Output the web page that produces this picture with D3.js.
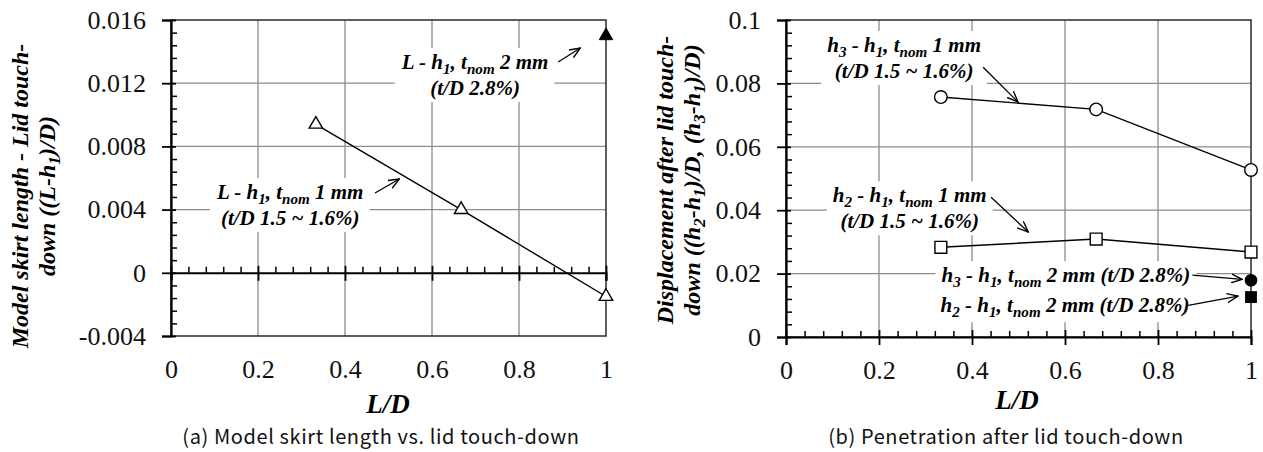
<!DOCTYPE html>
<html>
<head>
<meta charset="utf-8">
<script src="https://cdn.jsdelivr.net/npm/d3@7"></script>
<style>
  body { margin: 0; background: #fff; }
  svg { display: block; }
</style>
</head>
<body>
<svg id="fig" width="1263" height="452"></svg>
<script>
// ---- data ----
const xTicks = [0, 0.2, 0.4, 0.6, 0.8, 1];
const yTicksA = [-0.004, 0, 0.004, 0.008, 0.012, 0.016];
const yTicksB = [0, 0.02, 0.04, 0.06, 0.08, 0.1];

const LD = [0.333, 0.667, 1];
const skirt1mm = [0.0094, 0.0040, -0.0015];
const LD2mm = [1];
const skirt2mm = [0.0150];

const h3h1_1mm = [0.0757, 0.0718, 0.0527];
const h2h1_1mm = [0.0283, 0.0309, 0.0268];
const h3h1_2mm = [0.0179];
const h2h1_2mm = [0.0126];

const serif = "Liberation Serif";
const svg = d3.select("#fig");

// arrowhead (open V)
svg.append("defs").append("marker")
    .attr("id", "arr")
    .attr("markerUnits", "userSpaceOnUse")
    .attr("viewBox", "0 0 12 10")
    .attr("refX", 11).attr("refY", 5)
    .attr("markerWidth", 12).attr("markerHeight", 10)
    .attr("orient", "auto")
    .append("path")
    .attr("d", "M0,0.5 L11,5 L0,9.5")
    .attr("fill", "none")
    .attr("stroke", "#000")
    .attr("stroke-width", 1.4);

// write segments with subscripts into a text node
function rich(sel, segs) {
    let down = false;
    segs.forEach(([s, sub]) => {
        const ts = sel.append("tspan").text(s);
        if (sub) {
            ts.style("font-size", "0.72em");
            if (!down) { ts.attr("dy", 5); down = true; }
        } else if (down) {
            ts.attr("dy", -5); down = false;
        }
    });
}

function Config(left, right, top, bottom, yDomain, yTicks, xAxisAt) {
    this.x = d3.scaleLinear().domain([0, 1]).range([left, right]);
    this.y = d3.scaleLinear().domain(yDomain).range([bottom, top]);
    this.yTicks = yTicks;
    this.xAxisAt = xAxisAt;
    this.left = left; this.right = right; this.top = top; this.bottom = bottom;
}

function minorOf(ticks, n) {
    const out = [];
    for (let i = 0; i < ticks.length - 1; i++) {
        const step = (ticks[i + 1] - ticks[i]) / n;
        for (let k = 1; k < n; k++) out.push(ticks[i] + k * step);
    }
    return out;
}

function drawFrame(g, cfg) {
    const {x, y} = cfg;
    // grid
    g.append("g").selectAll("line")
        .data(xTicks.slice(1, -1))
        .join("line")
        .attr("x1", d => x(d)).attr("x2", d => x(d))
        .attr("y1", cfg.top).attr("y2", cfg.bottom)
        .attr("stroke", "#8c8c8c").attr("stroke-width", 1.3);
    g.append("g").selectAll("line")
        .data(cfg.yTicks.slice(1, -1).filter(d => d !== cfg.xAxisAt))
        .join("line")
        .attr("x1", cfg.left).attr("x2", cfg.right)
        .attr("y1", d => y(d)).attr("y2", d => y(d))
        .attr("stroke", "#8c8c8c").attr("stroke-width", 1.3);
    // border
    g.append("rect")
        .attr("x", cfg.left).attr("y", cfg.top)
        .attr("width", cfg.right - cfg.left).attr("height", cfg.bottom - cfg.top)
        .attr("fill", "none").attr("stroke", "#2a2a2a").attr("stroke-width", 1.5);
}

function drawAxes(g, cfg, fmt) {
    const {x, y} = cfg;
    const x0 = x(0), yAx = y(cfg.xAxisAt);
    // y axis
    const yAxis = d3.axisLeft(y).tickValues(cfg.yTicks).tickSize(9).tickPadding(16).tickFormat(fmt);
    const ya = g.append("g").attr("transform", `translate(${x0},0)`).call(yAxis);
    ya.select(".domain").attr("stroke", "#000").attr("stroke-width", 2.2);
    ya.selectAll(".tick line").attr("x1", 5).attr("stroke-width", 1.8);
    ya.selectAll(".tick text").style("font-size", "26px").style("font-family", serif).attr("fill", "#111");
    const yMinor = d3.axisRight(y).tickValues(minorOf(cfg.yTicks, 5)).tickSize(6).tickFormat("");
    const ym = g.append("g").attr("transform", `translate(${x0},0)`).call(yMinor);
    ym.select(".domain").remove();
    ym.selectAll(".tick line").attr("stroke-width", 1.5);

    // x axis line at xAxisAt
    const xAxis = d3.axisBottom(x).tickValues(xTicks).tickSize(8).tickFormat("");
    const xa = g.append("g").attr("transform", `translate(0,${yAx})`).call(xAxis);
    xa.select(".domain").attr("stroke", "#000").attr("stroke-width", 2);
    xa.selectAll(".tick line").attr("y1", -7).attr("stroke-width", 1.8);
    const xMinor = d3.axisTop(x).tickValues(minorOf(xTicks, 5)).tickSize(6).tickFormat("");
    const xm = g.append("g").attr("transform", `translate(0,${yAx})`).call(xMinor);
    xm.select(".domain").remove();
    xm.selectAll(".tick line").attr("stroke-width", 1.5);

    // x tick labels below plot
    const xl = d3.axisBottom(x).tickValues(xTicks).tickSize(0).tickPadding(24).tickFormat(d3.format("~g"));
    const xt = g.append("g").attr("transform", `translate(0,${cfg.bottom})`).call(xl);
    xt.select(".domain").remove();
    xt.selectAll(".tick text").style("font-size", "26px").style("font-family", serif).attr("fill", "#111");
}

function annotate(g, cfg, a) {
    const grp = g.append("g");
    const t = grp.append("text")
        .style("font-family", serif)
        .style("font-weight", "bold")
        .style("font-style", "italic")
        .style("font-size", "21px")
        .attr("text-anchor", "middle");
    a.lines.forEach((segs, i) => {
        const line = t.append("tspan")
            .attr("x", cfg.x(a.x))
            .attr("y", cfg.y(a.y) + i * 26 + 7);
        rich(line, segs);
    });
    const bb = t.node().getBBox();
    grp.insert("rect", "text")
        .attr("x", bb.x - 6).attr("y", bb.y - 2)
        .attr("width", bb.width + 12).attr("height", bb.height + 4)
        .attr("fill", "#fff");
    g.append("line")
        .attr("x1", cfg.x(a.from[0])).attr("y1", cfg.y(a.from[1]))
        .attr("x2", cfg.x(a.to[0])).attr("y2", cfg.y(a.to[1]))
        .attr("stroke", "#000").attr("stroke-width", 1.3)
        .attr("marker-end", "url(#arr)");
}

function yTitle(g, cx, cy, lines) {
    const t = g.append("text")
        .attr("transform", `translate(${cx},${cy}) rotate(-90)`)
        .style("font-family", serif)
        .style("font-weight", "bold")
        .style("font-style", "italic")
        .style("font-size", "24px")
        .attr("text-anchor", "middle");
    lines.forEach((segs, i) => {
        const ln = t.append("tspan").attr("x", 0).attr("y", i * 27);
        rich(ln, segs);
    });
}

function xTitle(g, cx, cy) {
    g.append("text")
        .attr("x", cx).attr("y", cy)
        .style("font-family", serif)
        .style("font-weight", "bold")
        .style("font-style", "italic")
        .style("font-size", "27px")
        .attr("text-anchor", "middle")
        .text("L/D");
}

function caption(g, cx, cy, s) {
    g.append("text")
        .attr("x", cx).attr("y", cy)
        .style("font-family", "Noto Sans CJK KR")
        .style("font-size", "20px")
        .attr("letter-spacing", 0.6)
        .attr("text-anchor", "middle")
        .attr("fill", "#111")
        .text(s);
}

// ---------------- (a) ----------------
const cfgA = new Config(171, 606, 20, 336, [-0.004, 0.016], yTicksA, 0);
const gA = svg.append("g");
drawFrame(gA, cfgA);

annotate(gA, cfgA, {
    x: 0.699, y: 0.01334,
    lines: [[["L - h", 0], ["1", 1], [", t", 0], ["nom", 1], [" 2 mm", 0]],
            [["(t/D 2.8%)", 0]]],
    from: [0.890, 0.01334], to: [0.941, 0.01423]
});
annotate(gA, cfgA, {
    x: 0.274, y: 0.00511,
    lines: [[["L - h", 0], ["1", 1], [", t", 0], ["nom", 1], [" 1 mm", 0]],
            [["(t/D 1.5 ~ 1.6%)", 0]]],
    from: [0.469, 0.00505], to: [0.525, 0.00594]
});

drawAxes(gA, cfgA, d => d === 0 ? "0" : d3.format(".3f")(d).replace("\u2212", "-"));

const tri = d3.symbol().type(d3.symbolTriangle).size(78);
const ptsA = LD.map((d, i) => ({x: d, y: skirt1mm[i]}));
gA.append("path")
    .datum(ptsA)
    .attr("d", d3.line().x(d => cfgA.x(d.x)).y(d => cfgA.y(d.y)))
    .attr("fill", "none").attr("stroke", "#000").attr("stroke-width", 1.4);
gA.selectAll(".triOpen")
    .data(ptsA)
    .join("path")
    .attr("d", tri)
    .attr("transform", d => `translate(${cfgA.x(d.x)},${cfgA.y(d.y)})`)
    .attr("fill", "#fff").attr("stroke", "#000").attr("stroke-width", 1.4);
gA.selectAll(".triFill")
    .data(LD2mm.map((d, i) => ({x: d, y: skirt2mm[i]})))
    .join("path")
    .attr("d", tri)
    .attr("transform", d => `translate(${cfgA.x(d.x)},${cfgA.y(d.y)})`)
    .attr("fill", "#000").attr("stroke", "#000");

yTitle(gA, 28, 196, [
    [["Model skirt length - Lid touch-", 0]],
    [["down ((L-h", 0], ["1", 1], [")/D)", 0]]
]);
xTitle(gA, 388, 413);
caption(gA, 381, 444, "(a) Model skirt length vs. lid touch-down");

// ---------------- (b) ----------------
const cfgB = new Config(786, 1251, 20, 337, [0, 0.1], yTicksB, 0);
const gB = svg.append("g");
drawFrame(gB, cfgB);

annotate(gB, cfgB, {
    x: 0.254, y: 0.0921,
    lines: [[["h", 0], ["3", 1], [" - h", 0], ["1", 1], [", t", 0], ["nom", 1], [" 1 mm", 0]],
            [["(t/D 1.5 ~ 1.6%)", 0]]],
    from: [0.424, 0.0851], to: [0.499, 0.0741]
});
annotate(gB, cfgB, {
    x: 0.266, y: 0.0447,
    lines: [[["h", 0], ["2", 1], [" - h", 0], ["1", 1], [", t", 0], ["nom", 1], [" 1 mm", 0]],
            [["(t/D 1.5 ~ 1.6%)", 0]]],
    from: [0.441, 0.0441], to: [0.521, 0.0331]
});
annotate(gB, cfgB, {
    x: 0.602, y: 0.0195,
    lines: [[["h", 0], ["3", 1], [" - h", 0], ["1", 1], [", t", 0], ["nom", 1], [" 2 mm (t/D 2.8%)", 0]]],
    from: [0.874, 0.0195], to: [0.981, 0.0182]
});
annotate(gB, cfgB, {
    x: 0.600, y: 0.0100,
    lines: [[["h", 0], ["2", 1], [" - h", 0], ["1", 1], [", t", 0], ["nom", 1], [" 2 mm (t/D 2.8%)", 0]]],
    from: [0.865, 0.0100], to: [0.972, 0.0129]
});

drawAxes(gB, cfgB, d3.format("~g"));

const lineB = d3.line().x(d => cfgB.x(d.x)).y(d => cfgB.y(d.y));
const circ = LD.map((d, i) => ({x: d, y: h3h1_1mm[i]}));
const sq = LD.map((d, i) => ({x: d, y: h2h1_1mm[i]}));
[circ, sq].forEach(pts => {
    gB.append("path").datum(pts).attr("d", lineB)
        .attr("fill", "none").attr("stroke", "#000").attr("stroke-width", 1.4);
});
gB.selectAll(".cOpen").data(circ).join("circle")
    .attr("cx", d => cfgB.x(d.x)).attr("cy", d => cfgB.y(d.y)).attr("r", 6.3)
    .attr("fill", "#fff").attr("stroke", "#000").attr("stroke-width", 1.4);
const sqSym = d3.symbol().type(d3.symbolSquare).size(140);
gB.selectAll(".sOpen").data(sq).join("path")
    .attr("d", sqSym)
    .attr("transform", d => `translate(${cfgB.x(d.x)},${cfgB.y(d.y)})`)
    .attr("fill", "#fff").attr("stroke", "#000").attr("stroke-width", 1.4);
gB.selectAll(".cFill").data(LD2mm.map((d, i) => ({x: d, y: h3h1_2mm[i]}))).join("circle")
    .attr("cx", d => cfgB.x(d.x)).attr("cy", d => cfgB.y(d.y)).attr("r", 6.3)
    .attr("fill", "#000");
gB.selectAll(".sFill").data(LD2mm.map((d, i) => ({x: d, y: h2h1_2mm[i]}))).join("path")
    .attr("d", sqSym)
    .attr("transform", d => `translate(${cfgB.x(d.x)},${cfgB.y(d.y)})`)
    .attr("fill", "#000");

yTitle(gB, 673, 180, [
    [["Displacement after lid touch-", 0]],
    [["down ((h", 0], ["2", 1], ["-h", 0], ["1", 1], [")/D, (h", 0], ["3", 1], ["-h", 0], ["1", 1], [")/D)", 0]]
]);
xTitle(gB, 1017, 409);
caption(gB, 1006, 444, "(b) Penetration after lid touch-down");
</script>
</body>
</html>
